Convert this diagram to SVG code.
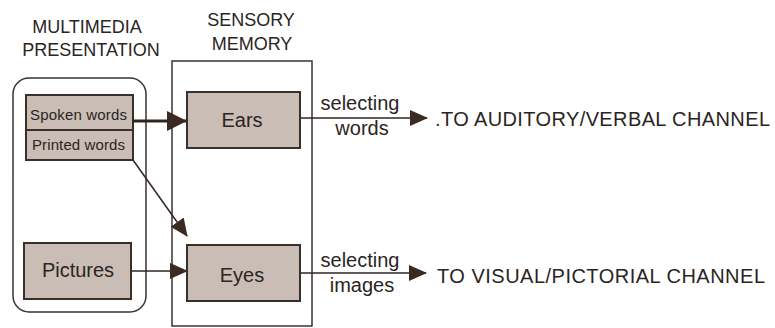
<svg xmlns="http://www.w3.org/2000/svg" width="775" height="328" viewBox="0 0 775 328">
<style>
text{font-family:"Liberation Sans",Arial,sans-serif;fill:#2a2522}
.hd{font-size:18px;text-anchor:middle}
.box{fill:#c9bdb5;stroke:#3a302b;stroke-width:2}
.frame{fill:none;stroke:#3a3330;stroke-width:1.5}
.sm{font-size:15px}
.lg{font-size:20px;text-anchor:middle}
.lab{font-size:20px;text-anchor:middle}
.out{font-size:20px}
.ln{stroke:#2f2622;fill:none}
</style>
<defs>
<marker id="ah" markerWidth="10" markerHeight="10" refX="9" refY="5" orient="auto" markerUnits="userSpaceOnUse" viewBox="0 0 10 10">
<path d="M0,0 L10,5 L0,10 Z" fill="#3b2a22"/>
</marker>
<marker id="ahb" markerWidth="20" markerHeight="20" refX="19" refY="10" orient="auto" markerUnits="userSpaceOnUse" viewBox="0 0 20 20">
<path d="M0,0 L20,10 L0,20 Z" fill="#3b2a22"/>
</marker>
<marker id="ahm" markerWidth="18" markerHeight="16" refX="17" refY="8" orient="auto" markerUnits="userSpaceOnUse" viewBox="0 0 18 16">
<path d="M0,0 L18,8 L0,16 Z" fill="#3b2a22"/>
</marker>
</defs>
<g id="multimedia">
<text class="hd" x="87" y="33">MULTIMEDIA</text>
<text class="hd" x="91" y="56">PRESENTATION</text>
<rect class="frame" x="13" y="78" width="133" height="234" rx="16"/>
</g>
<g id="sensory">
<text class="hd" x="251" y="26">SENSORY</text>
<text class="hd" x="252" y="50">MEMORY</text>
<rect class="frame" x="172" y="61" width="140" height="265"/>
</g>
<g id="spoken">
<rect class="box" x="26" y="95" width="107" height="35"/>
<text class="sm" x="30" y="120" textLength="97">Spoken words</text>
</g>
<g id="printed">
<rect class="box" x="26" y="130" width="107" height="30"/>
<text class="sm" x="32" y="150" textLength="93">Printed words</text>
</g>
<g id="pictures">
<rect class="box" x="24" y="243" width="107" height="56"/>
<text class="lg" x="78" y="277">Pictures</text>
</g>
<g id="ears">
<rect class="box" x="187" y="92" width="113" height="56"/>
<text class="lg" x="242" y="127">Ears</text>
</g>
<g id="eyes">
<rect class="box" x="187" y="245" width="113" height="56"/>
<text class="lg" x="242" y="282">Eyes</text>
</g>
<g id="connectors">
<line class="ln" x1="133" y1="121" x2="186" y2="121" stroke-width="3" marker-end="url(#ahb)"/>
<line class="ln" x1="133" y1="160" x2="187" y2="236" stroke-width="1.5" marker-end="url(#ahm)"/>
<line class="ln" x1="131" y1="271" x2="187" y2="271" stroke-width="1.5" marker-end="url(#ahm)"/>
<line class="ln" x1="300" y1="118" x2="427" y2="118" stroke-width="1.5" marker-end="url(#ahm)"/>
<line class="ln" x1="300" y1="273" x2="426" y2="273" stroke-width="1.5" marker-end="url(#ahm)"/>
</g>
<g id="labels">
<text class="lab" x="360" y="110">selecting</text>
<text class="lab" x="362" y="135">words</text>
<text class="lab" x="360" y="267">selecting</text>
<text class="lab" x="362" y="292">images</text>
<text class="out" x="435" y="126" textLength="335">.TO AUDITORY/VERBAL CHANNEL</text>
<text class="out" x="437" y="283" textLength="328">TO VISUAL/PICTORIAL CHANNEL</text>
</g>
</svg>
